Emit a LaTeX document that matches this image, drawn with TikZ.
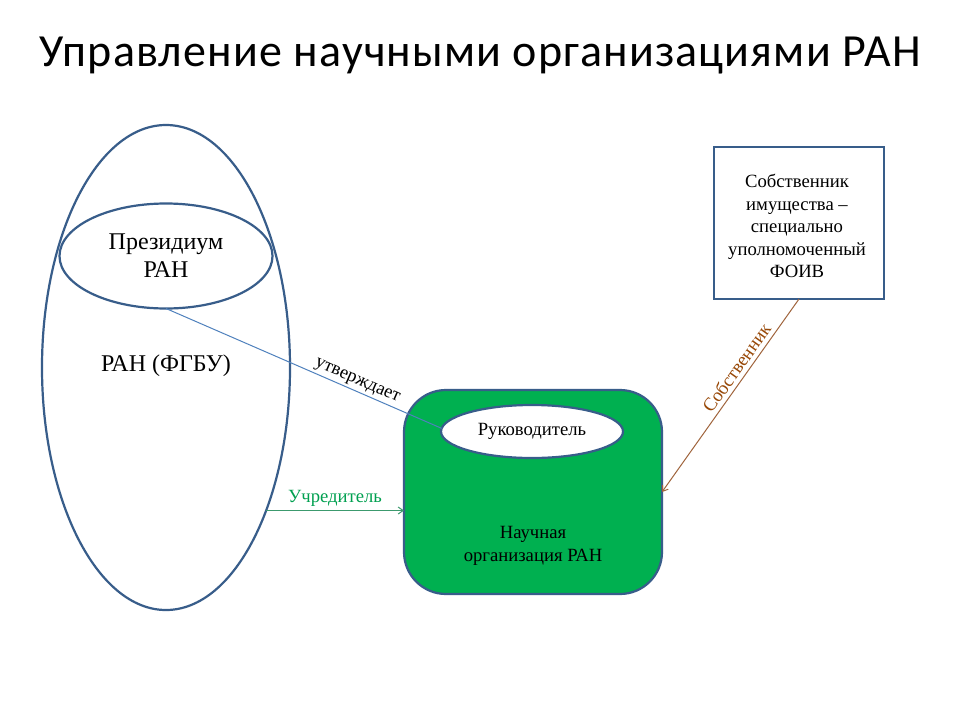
\documentclass[tikz,border=0pt]{standalone}
\usepackage{fontspec}
\setmainfont{Liberation Serif}
\newfontfamily\titlefont[LetterSpace=2.4]{Carlito}
\usetikzlibrary{arrows.meta,shapes.geometric}
\definecolor{outl}{HTML}{385D8A}
\definecolor{gfill}{HTML}{00B050}
\definecolor{lblue}{HTML}{4F81BD}
\definecolor{gline}{HTML}{3C9A6E}
\definecolor{gtext}{HTML}{00A050}
\definecolor{bline}{HTML}{A0643C}
\definecolor{btext}{HTML}{984807}
\tikzset{
  shapeline/.style={draw=outl, line width=2.2pt, inner sep=0pt, outer sep=0pt},
  oval/.style={shapeline, ellipse},
  bigtext/.style={font=\fontsize{24}{28}\selectfont, align=center},
  txt/.style={font=\fontsize{18.67}{22.5}\selectfont, align=center},
  thin/.style={line width=1pt},
  tip/.style={-{Straight Barb[length=5pt,width=7pt]}}
}
\begin{document}
\begin{tikzpicture}[x=1pt,y=-1pt]
\useasboundingbox[fill=white] (0,0) rectangle (960,720);
% title
\node[anchor=base, font=\titlefont\fontsize{46}{52}\selectfont, inner sep=0] (title) at (480,66) {Управление научными организациями РАН};
% RAN ellipse
\node[oval, minimum width=248pt, minimum height=485pt] (ran) at (166,367.5) {};
\node[bigtext] (rantext) at (166,366) {РАН (ФГБУ)};
% Presidium
\node[oval, bigtext, minimum width=213pt, minimum height=105pt] (pres) at (166,256) {Президиум\\РАН};
% organization
\node[shapeline, fill=gfill, rounded corners=42pt, minimum width=258pt, minimum height=204pt] (org) at (533,492) {};
\node[txt] (orgtext) at (533,546) {Научная\\организация РАН};
\node[oval, fill=white, txt, minimum width=182pt, minimum height=53pt] (ruk) at (532,431.5) {Руководитель};
% owner
\node[shapeline, fill=white, minimum width=170pt, minimum height=152pt] (owner) at (799,223) {};
\node[txt] (ownertext) at (797,226) {Собственник\\имущества --\\специально\\уполномоченный\\ФОИВ};
% connectors
\draw[lblue, thin] (pres.south) -- (ruk.178)
  node[pos=0.68, sloped, above, txt, text=black, inner sep=2pt] {утверждает};
\draw[gline, thin, tip] (ran.-55.4) -- (ran.-55.4 -| org.west)
  node[midway, above, txt, text=gtext, inner sep=4pt] {Учредитель};
\draw[bline, thin, tip] (owner.south) -- (org.east)
  node[pos=0.39, sloped, above, txt, text=btext, inner sep=4pt] {Собственник};
\end{tikzpicture}
\end{document}
